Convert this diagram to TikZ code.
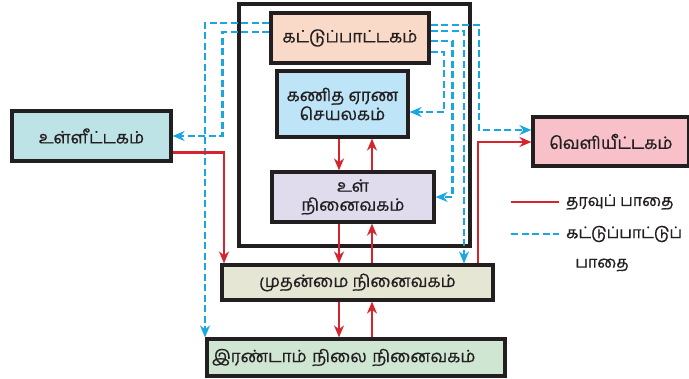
\documentclass[tikz,border=0pt]{standalone}
\usepackage{fontspec}
\setmainfont[Script=Tamil, FakeBold=0.7]{Hind Madurai}
\usetikzlibrary{arrows.meta}
\definecolor{redc}{HTML}{D7232B}
\definecolor{bluec}{HTML}{1AA7E1}
\definecolor{edgec}{HTML}{231F20}
\definecolor{cuc}{HTML}{F9D9C7}
\definecolor{aluc}{HTML}{BDE4F7}
\definecolor{muc}{HTML}{E0DCEE}
\definecolor{pmc}{HTML}{E6E6D5}
\definecolor{smc}{HTML}{CFE6D2}
\definecolor{inc}{HTML}{BDE3E6}
\definecolor{outc}{HTML}{F8C0C8}
\tikzset{
  unitbox/.style={draw=edgec, line width=3.2pt, inner sep=2pt, align=center,
    font=\fontsize{17}{19}\selectfont, text=edgec},
  datap/.style={draw=redc, line width=2.8pt, -{Stealth[length=12pt,width=10pt]}},
  ctrlp/.style={draw=bluec, line width=2.8pt, dash pattern=on 7pt off 3.5pt,
    -{Stealth[length=12pt,width=10pt]}},
  legtext/.style={font=\fontsize{16}{19}\selectfont, text=edgec, inner sep=0pt}
}
\begin{document}
\begin{tikzpicture}[x=1pt,y=-1pt]
\useasboundingbox (0,0) rectangle (689,379);
% outer CPU box
\node[draw=edgec, line width=3.6pt, minimum width=231pt, minimum height=242pt, inner sep=0pt] (cpu) at (354.5,125) {};

% helper coordinates
\coordinate (yA) at (0,25);
\coordinate (yB) at (0,31);
\coordinate (yC) at (0,41);
\coordinate (yD) at (0,52);
\coordinate (yE) at (0,23);
\coordinate (yF) at (0,32);
\coordinate (b1) at (479,130);
\coordinate (xB) at (464,0);
\coordinate (b4) at (444,112);
\coordinate (xS) at (205,0);
\coordinate (xd) at (339,0);
\coordinate (xu) at (372,0);
\coordinate (xo) at (478,0);
\coordinate (xi) at (224,0);

% boxes
\node[unitbox, fill=cuc, minimum width=158pt, minimum height=50pt] (cu) at (350,38) {கட்டுப்பாட்டகம்};
\node[unitbox, fill=aluc, minimum width=131pt, minimum height=66pt] (alu) at (342.5,104) {கணித ஏரண\\செயலகம்};
\node[unitbox, fill=muc, minimum width=162pt, minimum height=50pt] (mu) at (353,197) {உள்\\நினைவகம்};
\node[unitbox, fill=pmc, minimum width=271pt, minimum height=35pt] (pm) at (357.5,282.5) {முதன்மை நினைவகம்};
\node[unitbox, fill=smc, minimum width=298pt, minimum height=37pt, text width=288pt, align=left, inner xsep=5pt] (sm) at (356,357.5) {இரண்டாம் நிலை நினைவகம்};
\node[unitbox, fill=inc, minimum width=159pt, minimum height=50pt] (in) at (91.5,136) {உள்ளீட்டகம்};
\node[unitbox, fill=outc, minimum width=156pt, minimum height=49pt] (out) at (611,141.5) {வெளியீட்டகம்};

% control paths
\draw[ctrlp] (cu.east |- yA) -| (b1) -- (out.west |- b1);
\draw[ctrlp] (cu.east |- yB) -| (pm.north -| xB);
\draw[ctrlp] (cu.east |- yC) -| ([xshift=17pt]mu.east) -- (mu.east);
\draw[ctrlp] (cu.east |- yD) -| (b4) -- (alu.east |- b4);
\draw[ctrlp] (cu.west |- yE) -| (sm.north -| xS);
\draw[ctrlp] (cu.west |- yF) -| ([xshift=50pt]in.east) -- (in.east);

% data paths
\draw[datap] ([yshift=10pt]in.south east) -| (pm.north -| xi);
\draw[datap] (alu.south -| xd) -- (mu.north -| xd);
\draw[datap] (mu.north -| xu) -- (alu.south -| xu);
\draw[datap] (mu.south -| xd) -- (pm.north -| xd);
\draw[datap] (pm.north -| xu) -- (mu.south -| xu);
\draw[datap] (pm.south -| xd) -- (sm.north -| xd);
\draw[datap] (sm.north -| xu) -- (pm.south -| xu);
\draw[datap] (pm.north -| xo) |- ([yshift=-0.5pt]out.west);

% legend
\coordinate (la1) at (511,202);
\coordinate (la2) at (559,202);
\coordinate (lb1) at (511,234);
\coordinate (lb2) at (559,234);
\draw[draw=redc, line width=2.8pt] (la1) -- (la2);
\draw[draw=bluec, line width=2.8pt, dash pattern=on 7pt off 3.5pt] (lb1) -- (lb2);
\node[legtext, anchor=west] (lg1) at (566,202) {தரவுப் பாதை};
\node[legtext, anchor=west] (lg2) at (566,234) {கட்டுப்பாட்டுப்};
\node[legtext] (lg3) at (602,265) {பாதை};
\end{tikzpicture}
\end{document}
